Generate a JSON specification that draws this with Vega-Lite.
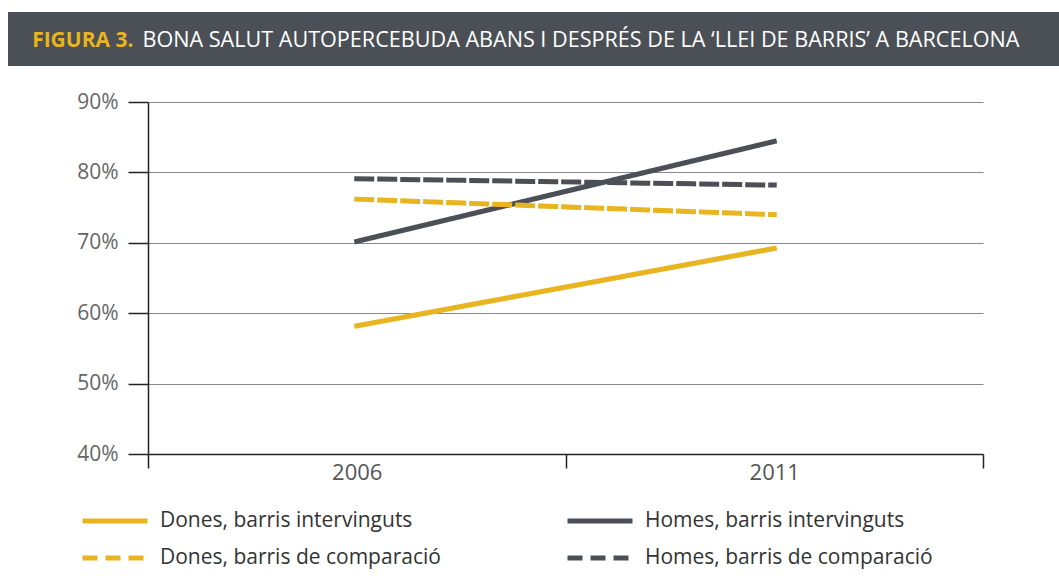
{
  "$schema": "https://vega.github.io/schema/vega-lite/v6.json",
  "background": "white",
  "padding": {"left": 8, "top": 12, "right": 0, "bottom": 0},
  "config": {"view": {"stroke": null}, "font": "Open Sans"},
  "spacing": 25,
  "vconcat": [
    {
      "width": 911,
      "height": 54,
      "data": {"values": [{"part": "FIGURA 3.", "rest": "BONA SALUT AUTOPERCEBUDA ABANS I DESPRÉS DE LA ‘LLEI DE BARRIS’ A BARCELONA"}]},
      "layer": [
        {
          "mark": {"type": "rect", "color": "#4b5056", "clip": false},
          "encoding": {
            "x": {"datum": 0, "type": "quantitative", "scale": {"domain": [0, 1], "range": [-140, 911]}, "axis": null},
            "x2": {"datum": 1},
            "y": {"datum": 0, "type": "quantitative", "scale": {"domain": [0, 1], "range": [54, 0]}, "axis": null},
            "y2": {"datum": 1}
          }
        },
        {
          "mark": {"type": "text", "align": "right", "baseline": "alphabetic", "dx": -470, "dy": 8, "color": "#e8b420", "fontWeight": "bold", "font": "Open Sans", "fontSize": 21},
          "encoding": {"text": {"field": "part"}}
        },
        {
          "mark": {"type": "text", "align": "left", "baseline": "alphabetic", "dx": -461, "dy": 8, "color": "#ffffff", "font": "Open Sans", "fontSize": 21.6},
          "encoding": {"text": {"field": "rest"}}
        }
      ]
    },
    {
      "width": 835,
      "height": 352,
      "data": {"values": [
        {"serie": "Dones, barris intervinguts", "any": "2006", "valor": 58.2},
        {"serie": "Dones, barris intervinguts", "any": "2011", "valor": 69.2},
        {"serie": "Homes, barris intervinguts", "any": "2006", "valor": 70.2},
        {"serie": "Homes, barris intervinguts", "any": "2011", "valor": 84.4},
        {"serie": "Dones, barris de comparació", "any": "2006", "valor": 76.2},
        {"serie": "Dones, barris de comparació", "any": "2011", "valor": 74.0},
        {"serie": "Homes, barris de comparació", "any": "2006", "valor": 79.1},
        {"serie": "Homes, barris de comparació", "any": "2011", "valor": 78.2}
      ]},
      "mark": {"type": "line", "strokeWidth": 5, "strokeCap": "square"},
      "encoding": {
        "x": {
          "field": "any", "type": "ordinal",
          "scale": {"type": "band", "paddingInner": 0, "paddingOuter": 0},
          "axis": {"title": null, "labelAngle": 0, "tickBand": "extent", "tickSize": 14, "tickColor": "#222222", "tickWidth": 1.5, "domainColor": "#222222", "domainWidth": 1.5, "labelFontSize": 22, "labelColor": "#555555", "labelPadding": -6, "grid": false}
        },
        "y": {
          "field": "valor", "type": "quantitative",
          "scale": {"domain": [40, 90], "nice": false, "zero": false},
          "axis": {"title": null, "values": [40, 50, 60, 70, 80, 90], "labelExpr": "datum.value + '%'", "tickSize": 20, "tickColor": "#222222", "tickWidth": 1.5, "domainColor": "#222222", "domainWidth": 1.5, "gridColor": "#8a8a8a", "gridWidth": 1.2, "labelFontSize": 21, "labelColor": "#666666", "labelPadding": 10, "minExtent": 140}
        },
        "color": {
          "field": "serie", "type": "nominal",
          "scale": {
            "domain": ["Dones, barris intervinguts", "Homes, barris intervinguts", "Dones, barris de comparació", "Homes, barris de comparació"],
            "range": ["#e8b420", "#4b5056", "#e8b420", "#4b5056"]
          },
          "legend": {
            "title": null, "orient": "none", "legendX": -68, "legendY": 497, "direction": "horizontal",
            "columns": 2, "columnPadding": 124, "rowPadding": 13, "clipHeight": 24,
            "symbolType": "stroke", "symbolSize": 4225, "symbolStrokeWidth": 5,
            "labelFontSize": 21, "labelColor": "#333333", "labelOffset": 10, "labelLimit": 400
          }
        },
        "strokeDash": {
          "field": "serie", "type": "nominal",
          "scale": {
            "domain": ["Dones, barris intervinguts", "Homes, barris intervinguts", "Dones, barris de comparació", "Homes, barris de comparació"],
            "range": [[1, 0], [1, 0], [15, 8], [15, 8]]
          },
          "legend": {
            "title": null, "orient": "none", "legendX": -68, "legendY": 497, "direction": "horizontal",
            "columns": 2, "columnPadding": 124, "rowPadding": 13, "clipHeight": 24,
            "symbolType": "stroke", "symbolSize": 4225, "symbolStrokeWidth": 5,
            "labelFontSize": 21, "labelColor": "#333333", "labelOffset": 10, "labelLimit": 400
          }
        }
      }
    }
  ]
}
